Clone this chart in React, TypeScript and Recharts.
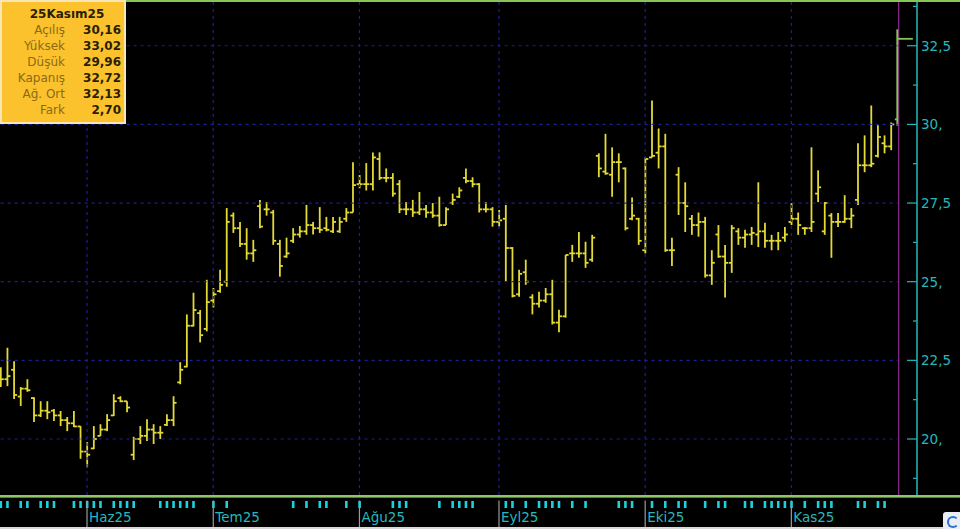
import { ComposedChart, BarChart, Bar, XAxis, YAxis, ReferenceLine } from 'recharts'

// ── Data ────────────────────────────────────────────────────────────────────

const opens = [
  22.1, 21.9, 22.2, 21.35, 21.6, 21.3, 20.75, 20.9, 20.9, 20.75, 20.6, 20.5, 20.4,
  19.6, 19.7, 20.1, 20.3, 20.75, 21.3, 21.2, 19.5, 20.0, 20.1, 20.3, 20.2, 20.45, 20.6, 21.8, 22.3, 23.6, 24.0, 23.5,
  24.4, 24.7, 25.0, 27.1, 26.7, 26.2, 25.9, 27.4, 27.3, 27.2, 26.2, 25.8, 26.3, 26.5, 26.6, 26.8, 26.7, 26.7, 26.6, 26.6,
  27.0, 27.2, 28.1, 28.1, 28.1, 28.9, 28.3, 28.3, 28.1, 27.3, 27.3, 27.2, 27.3, 27.2, 27.1, 26.8, 27.5, 27.7, 28.3, 28.2,
  28.1, 27.3, 27.3, 26.9, 27.0, 26.07, 24.6, 25.3, 24.5, 24.3, 24.4, 24.6, 23.7, 23.9, 25.9, 25.9, 25.9, 25.7, 29.0, 28.5,
  28.4, 28.8, 28.6, 27.0, 27.0, 26.0, 28.95, 29.1, 29.3, 26.0, 28.4, 27.5, 27.0, 26.8, 26.9, 25.2, 26.5, 25.8, 25.6, 26.6,
  26.4, 26.5, 26.5, 26.6, 26.3, 26.3, 26.4, 26.9, 27.0, 26.7, 26.7, 27.8, 26.6, 27.1, 26.9, 26.9, 27.0, 27.6, 28.7, 28.7,
  29.0, 29.4, 29.3, 30.16,
]
const highs = [
  22.28, 22.9, 22.47, 21.65, 21.9, 21.33, 21.2, 21.2, 20.95, 20.89, 20.7, 20.89, 20.41,
  19.9, 20.41, 20.47, 20.79, 21.42, 21.36, 21.2, 20.07, 20.41, 20.63, 20.47, 20.41, 20.79, 21.36, 22.44, 23.96, 24.65, 24.1, 25.06,
  24.8, 25.38, 27.34, 27.2, 26.9, 26.7, 26.33, 27.6, 27.53, 27.28, 26.33, 26.4, 26.7, 26.77, 27.44, 26.9, 27.37, 27.06, 27.06, 27.06,
  27.34, 28.8, 28.39, 28.77, 29.11, 29.11, 28.6, 28.45, 28.23, 27.53, 27.6, 27.85, 27.44, 27.5, 27.7, 27.37, 27.8, 28.0, 28.6, 28.32,
  28.13, 27.53, 27.37, 27.28, 27.44, 26.1, 25.38, 25.7, 24.6, 24.68, 24.8, 25.06, 24.11, 25.85, 26.17, 26.58, 26.27, 26.49, 29.08, 29.7,
  29.27, 29.08, 28.63, 27.68, 27.03, 28.95, 30.76, 29.87, 29.7, 26.4, 28.64, 28.16, 27.12, 27.2, 27.06, 26.0, 26.8, 26.17, 26.8, 26.7,
  26.65, 26.74, 28.16, 26.87, 26.49, 26.58, 26.74, 27.5, 27.2, 26.74, 29.27, 28.54, 27.53, 27.18, 27.18, 27.75, 27.34, 29.4, 29.65, 30.6,
  29.97, 29.65, 30.06, 33.02,
]
const lows = [
  21.65, 21.68, 21.27, 21.05, 21.5, 20.54, 20.7, 20.63, 20.57, 20.41, 20.25, 20.38, 19.37,
  19.1, 19.68, 20.1, 20.25, 20.73, 21.17, 20.85, 19.33, 19.84, 19.94, 19.84, 20.0, 20.41, 20.41, 21.74, 22.28, 23.58, 23.07, 23.42,
  24.18, 24.65, 24.84, 26.55, 26.1, 25.7, 25.63, 26.7, 27.1, 26.17, 25.16, 25.76, 26.23, 26.4, 26.49, 26.5, 26.55, 26.6, 26.55, 26.55,
  26.9, 27.2, 27.97, 27.9, 27.9, 28.23, 28.16, 27.7, 27.18, 27.12, 27.06, 27.12, 27.03, 27.03, 26.75, 26.8, 27.44, 27.66, 28.13, 28.0,
  27.2, 27.2, 26.75, 26.75, 25.0, 24.5, 24.52, 24.9, 23.96, 24.18, 24.33, 23.64, 23.39, 23.86, 25.63, 25.76, 25.44, 25.63, 28.32, 28.4,
  27.7, 28.16, 26.63, 26.95, 26.17, 25.9, 28.95, 28.6, 25.95, 25.5, 27.12, 26.58, 26.49, 26.43, 25.13, 24.9, 25.76, 24.5, 25.28, 26.17,
  26.08, 26.17, 26.1, 26.08, 26.0, 26.0, 26.27, 26.8, 26.49, 26.49, 26.58, 27.53, 26.49, 25.76, 26.74, 26.87, 26.7, 27.44, 28.48, 28.64,
  28.95, 29.08, 29.18, 29.96,
]
const closes = [
  21.9, 22.0, 21.4, 21.6, 21.55, 20.75, 20.9, 20.85, 20.75, 20.6, 20.5, 20.4, 19.6,
  19.5, 20.0, 20.3, 20.6, 21.2, 21.2, 21.0, 20.0, 20.1, 20.3, 20.2, 20.2, 20.6, 21.15, 22.2, 23.6, 24.1, 23.3, 24.35,
  24.6, 24.9, 26.9, 26.7, 26.2, 25.9, 26.0, 26.75, 27.3, 26.3, 25.5, 25.9, 26.5, 26.6, 26.8, 26.7, 26.65, 26.65, 26.9, 26.9,
  27.2, 28.07, 28.1, 28.1, 28.95, 28.3, 28.3, 27.8, 27.3, 27.3, 27.2, 27.3, 27.2, 27.1, 26.8, 27.3, 27.6, 27.9, 28.2, 28.1,
  27.3, 27.3, 26.9, 26.95, 26.07, 24.55, 25.25, 25.0, 24.3, 24.4, 24.6, 23.7, 23.9, 25.85, 25.9, 25.9, 25.6, 26.4, 28.6, 28.44,
  28.8, 28.8, 26.7, 27.1, 26.3, 28.9, 29.0, 29.3, 26.0, 26.0, 27.5, 27.4, 26.8, 26.9, 25.2, 25.6, 25.8, 25.6, 26.7, 26.4,
  26.5, 26.55, 26.6, 26.3, 26.3, 26.3, 26.5, 27.0, 26.8, 26.7, 26.9, 28.0, 27.5, 26.9, 26.9, 27.0, 27.1, 28.7, 28.7, 28.75,
  29.6, 29.3, 30.0, 32.72,
]

const monthLabels = ['Haz25', 'Tem25', 'Ağu25', 'Eyl25', 'Eki25', 'Kas25']
const monthStarts = [13, 32, 54, 75, 97, 119]

// days flagged in the cyan strip under the chart
const markedDays = [
  0, 1, 3, 4, 6, 7, 8, 11, 12, 13, 14, 15, 17, 18, 19, 20, 24, 25, 26, 27, 28, 29, 32, 34, 44, 46, 48, 49, 52, 54,
  59, 60, 61, 66, 68, 69, 70, 71, 76, 77, 79, 81, 82, 83, 84, 86, 88, 93, 94, 95, 98, 100, 102, 103, 106, 108, 109,
  112, 113, 115, 116, 117, 118, 119, 121, 123, 124, 125, 129, 130, 132, 133,
]

const yTicks = [18.75, 20, 21.25, 22.5, 23.75, 25, 26.25, 27.5, 28.75, 30, 31.25, 32.5, 33.75]
const majorTicks = [20, 22.5, 25, 27.5, 30, 32.5]

const infoTitle = '25Kasım25'
const infoLabels = ['Açılış', 'Yüksek', 'Düşük', 'Kapanış', 'Ağ. Ort', 'Fark']
const infoValues = ['30,16', '33,02', '29,96', '32,72', '32,13', '2,70']

// ── Style ───────────────────────────────────────────────────────────────────

const YELLOW = '#e3da36'
const GREEN  = '#86c455'
const CYAN   = '#26b8bc'
const MARK   = '#18d2dc'
const GRID   = '#1e1e96'
const PURPLE = '#8c2c8c'
const FONT   = '"DejaVu Sans", Verdana, sans-serif'

const data = opens.map((o, i) => ({
  i,
  open: o,
  high: highs[i],
  low: lows[i],
  close: closes[i],
  mark: markedDays.includes(i) ? 1 : 0,
}))
const lastIdx = data.length - 1

const fmt = (v: number) => {
  const s = v.toFixed(1).replace('.', ',')
  return s.endsWith(',0') ? s.slice(0, -1) : s
}

// ── Shapes ──────────────────────────────────────────────────────────────────

// eslint-disable-next-line @typescript-eslint/no-explicit-any
function OhlcShape(props: any) {
  const { x, y, width, height, payload, index, background } = props
  if (!payload) return null
  const top = Math.min(y, y + height)
  const bot = Math.max(y, y + height)
  const k = (bot - top) / (payload.high - payload.low || 1)
  const cx = x + width / 2
  const oy = top + (payload.high - payload.open) * k
  const cy = top + (payload.high - payload.close) * k
  const last = index === lastIdx
  return (
    <g>
      {/* cursor line on the last session, under its bar */}
      {last && background && (
        <line x1={cx + 0.8} x2={cx + 0.8} y1={background.y} y2={background.y + background.height}
          stroke={PURPLE} strokeWidth={1.2} />
      )}
      <g stroke={last ? GREEN : YELLOW} strokeWidth={1.8}>
        <line x1={cx - (last ? 0.6 : 0)} x2={cx - (last ? 0.6 : 0)} y1={top} y2={bot} />
        <line x1={cx - 3} x2={cx} y1={oy} y2={oy} />
        <line x1={cx} x2={cx + (last ? 15 : 3)} y1={cy} y2={cy} />
      </g>
    </g>
  )
}

// eslint-disable-next-line @typescript-eslint/no-explicit-any
function MarkShape(props: any) {
  const { x, y, width, height, payload } = props
  if (!payload || !payload.mark) return null
  return <rect x={x + width / 2 - 1.3} y={y} width={2.6} height={height} fill={MARK} />
}

// eslint-disable-next-line @typescript-eslint/no-explicit-any
function PriceTick({ x, y, payload }: any) {
  const v = payload.value as number
  const major = majorTicks.includes(v)
  return (
    <g>
      <line x1={x - (major ? 10 : 4)} x2={x} y1={y} y2={y} stroke={CYAN} strokeWidth={1.2} />
      {major && (
        <text x={x + 4} y={y + 5} fill={CYAN} fontSize={13.5} fontFamily={FONT}>{fmt(v)}</text>
      )}
    </g>
  )
}

// eslint-disable-next-line @typescript-eslint/no-explicit-any
function MonthTick({ x, y, payload }: any) {
  const label = monthLabels[monthStarts.indexOf(payload.value)]
  return (
    <g>
      <line x1={x} x2={x} y1={y - 7.5} y2={y + 19} stroke="#9a9a9a" strokeWidth={1.2} />
      <text x={x + 2} y={y + 14} fill={CYAN} fontSize={13.5} fontFamily={FONT}>{label}</text>
    </g>
  )
}

// ── Info box ────────────────────────────────────────────────────────────────

function InfoBox() {
  return (
    <div style={{
      position: 'absolute', left: 0, top: 0, width: 122, height: 120,
      background: '#fcc22e', border: '2px solid #f6e7b4', fontFamily: FONT, fontSize: 12,
    }}>
      <div style={{ textAlign: 'center', fontWeight: 'bold', color: '#2a1e00', lineHeight: '16px', marginTop: 4, paddingLeft: 8 }}>
        {infoTitle}
      </div>
      {infoLabels.map((l, i) => (
        <div key={l} style={{ display: 'flex', lineHeight: '16px' }}>
          <span style={{ width: 63, textAlign: 'right', color: '#8a6a14' }}>{l}</span>
          <span style={{ width: 56, textAlign: 'right', color: '#2a1e00', fontWeight: 'bold' }}>{infoValues[i]}</span>
        </div>
      ))}
    </div>
  )
}

// ── Chart ───────────────────────────────────────────────────────────────────

export default function App() {
  return (
    <div style={{ position: 'fixed', left: 0, top: 0, width: 960, height: 529, background: '#000', overflow: 'hidden' }}>
      <div style={{ position: 'absolute', left: 0, top: 0 }}>
        <ComposedChart width={960} height={497} data={data} margin={{ top: 2, right: 0, bottom: 2, left: -2.7 }} barCategoryGap={0}>
          <XAxis dataKey="i" type="category" hide padding={{ left: 0, right: 16 }} />
          <YAxis
            orientation="right"
            type="number"
            width={43}
            domain={[18.22, 33.89]}
            allowDataOverflow
            ticks={yTicks}
            interval={0}
            tickSize={0}
            tickMargin={0}
            axisLine={{ stroke: CYAN, strokeWidth: 1.5 }}
            tick={PriceTick}
          />
          {majorTicks.map(v => (
            <ReferenceLine key={`h${v}`} segment={[{ x: 0, y: v }, { x: lastIdx, y: v }]}
              stroke={GRID} strokeDasharray="3 4" strokeWidth={1.2} />
          ))}
          {monthStarts.map(m => (
            <ReferenceLine key={`v${m}`} x={m} stroke={GRID} strokeDasharray="3 4" strokeWidth={1.2} />
          ))}
          <Bar dataKey={(d: { low: number; high: number }) => [d.low, d.high]} shape={OhlcShape} isAnimationActive={false} />
        </ComposedChart>
      </div>

      <div style={{ position: 'absolute', left: 0, top: 0, width: 960, height: 2, background: GREEN }} />
      <div style={{ position: 'absolute', left: 0, top: 495, width: 960, height: 2, background: '#8cc86a' }} />
      <div style={{ position: 'absolute', left: 0, top: 497, width: 960, height: 1, background: '#6a6a6a' }} />

      <div style={{ position: 'absolute', left: 0, top: 497 }}>
        <BarChart width={960} height={32} data={data} margin={{ top: 4, right: 43, bottom: 0, left: -2.7 }} barCategoryGap={0}>
          <XAxis dataKey="i" type="category" padding={{ left: 0, right: 16 }} ticks={monthStarts} interval={0}
            tickSize={0} tickMargin={0} axisLine={false} height={21} tick={MonthTick} />
          <YAxis hide domain={[0, 1]} />
          <Bar dataKey="mark" shape={MarkShape} isAnimationActive={false} />
        </BarChart>
      </div>

      <div style={{ position: 'absolute', left: 0, top: 527, width: 960, height: 2, background: '#d8d8d8' }} />
      <div style={{
        position: 'absolute', left: 943, top: 512, width: 17, height: 17, background: '#e9eef4',
        borderRadius: '3px 0 0 0',
      }}>
        <div style={{
          position: 'absolute', left: 4, top: 4, width: 8, height: 8, borderRadius: '50%',
          border: '2px solid #2f6fd0', borderRightColor: 'transparent',
        }} />
      </div>

      <InfoBox />
    </div>
  )
}
